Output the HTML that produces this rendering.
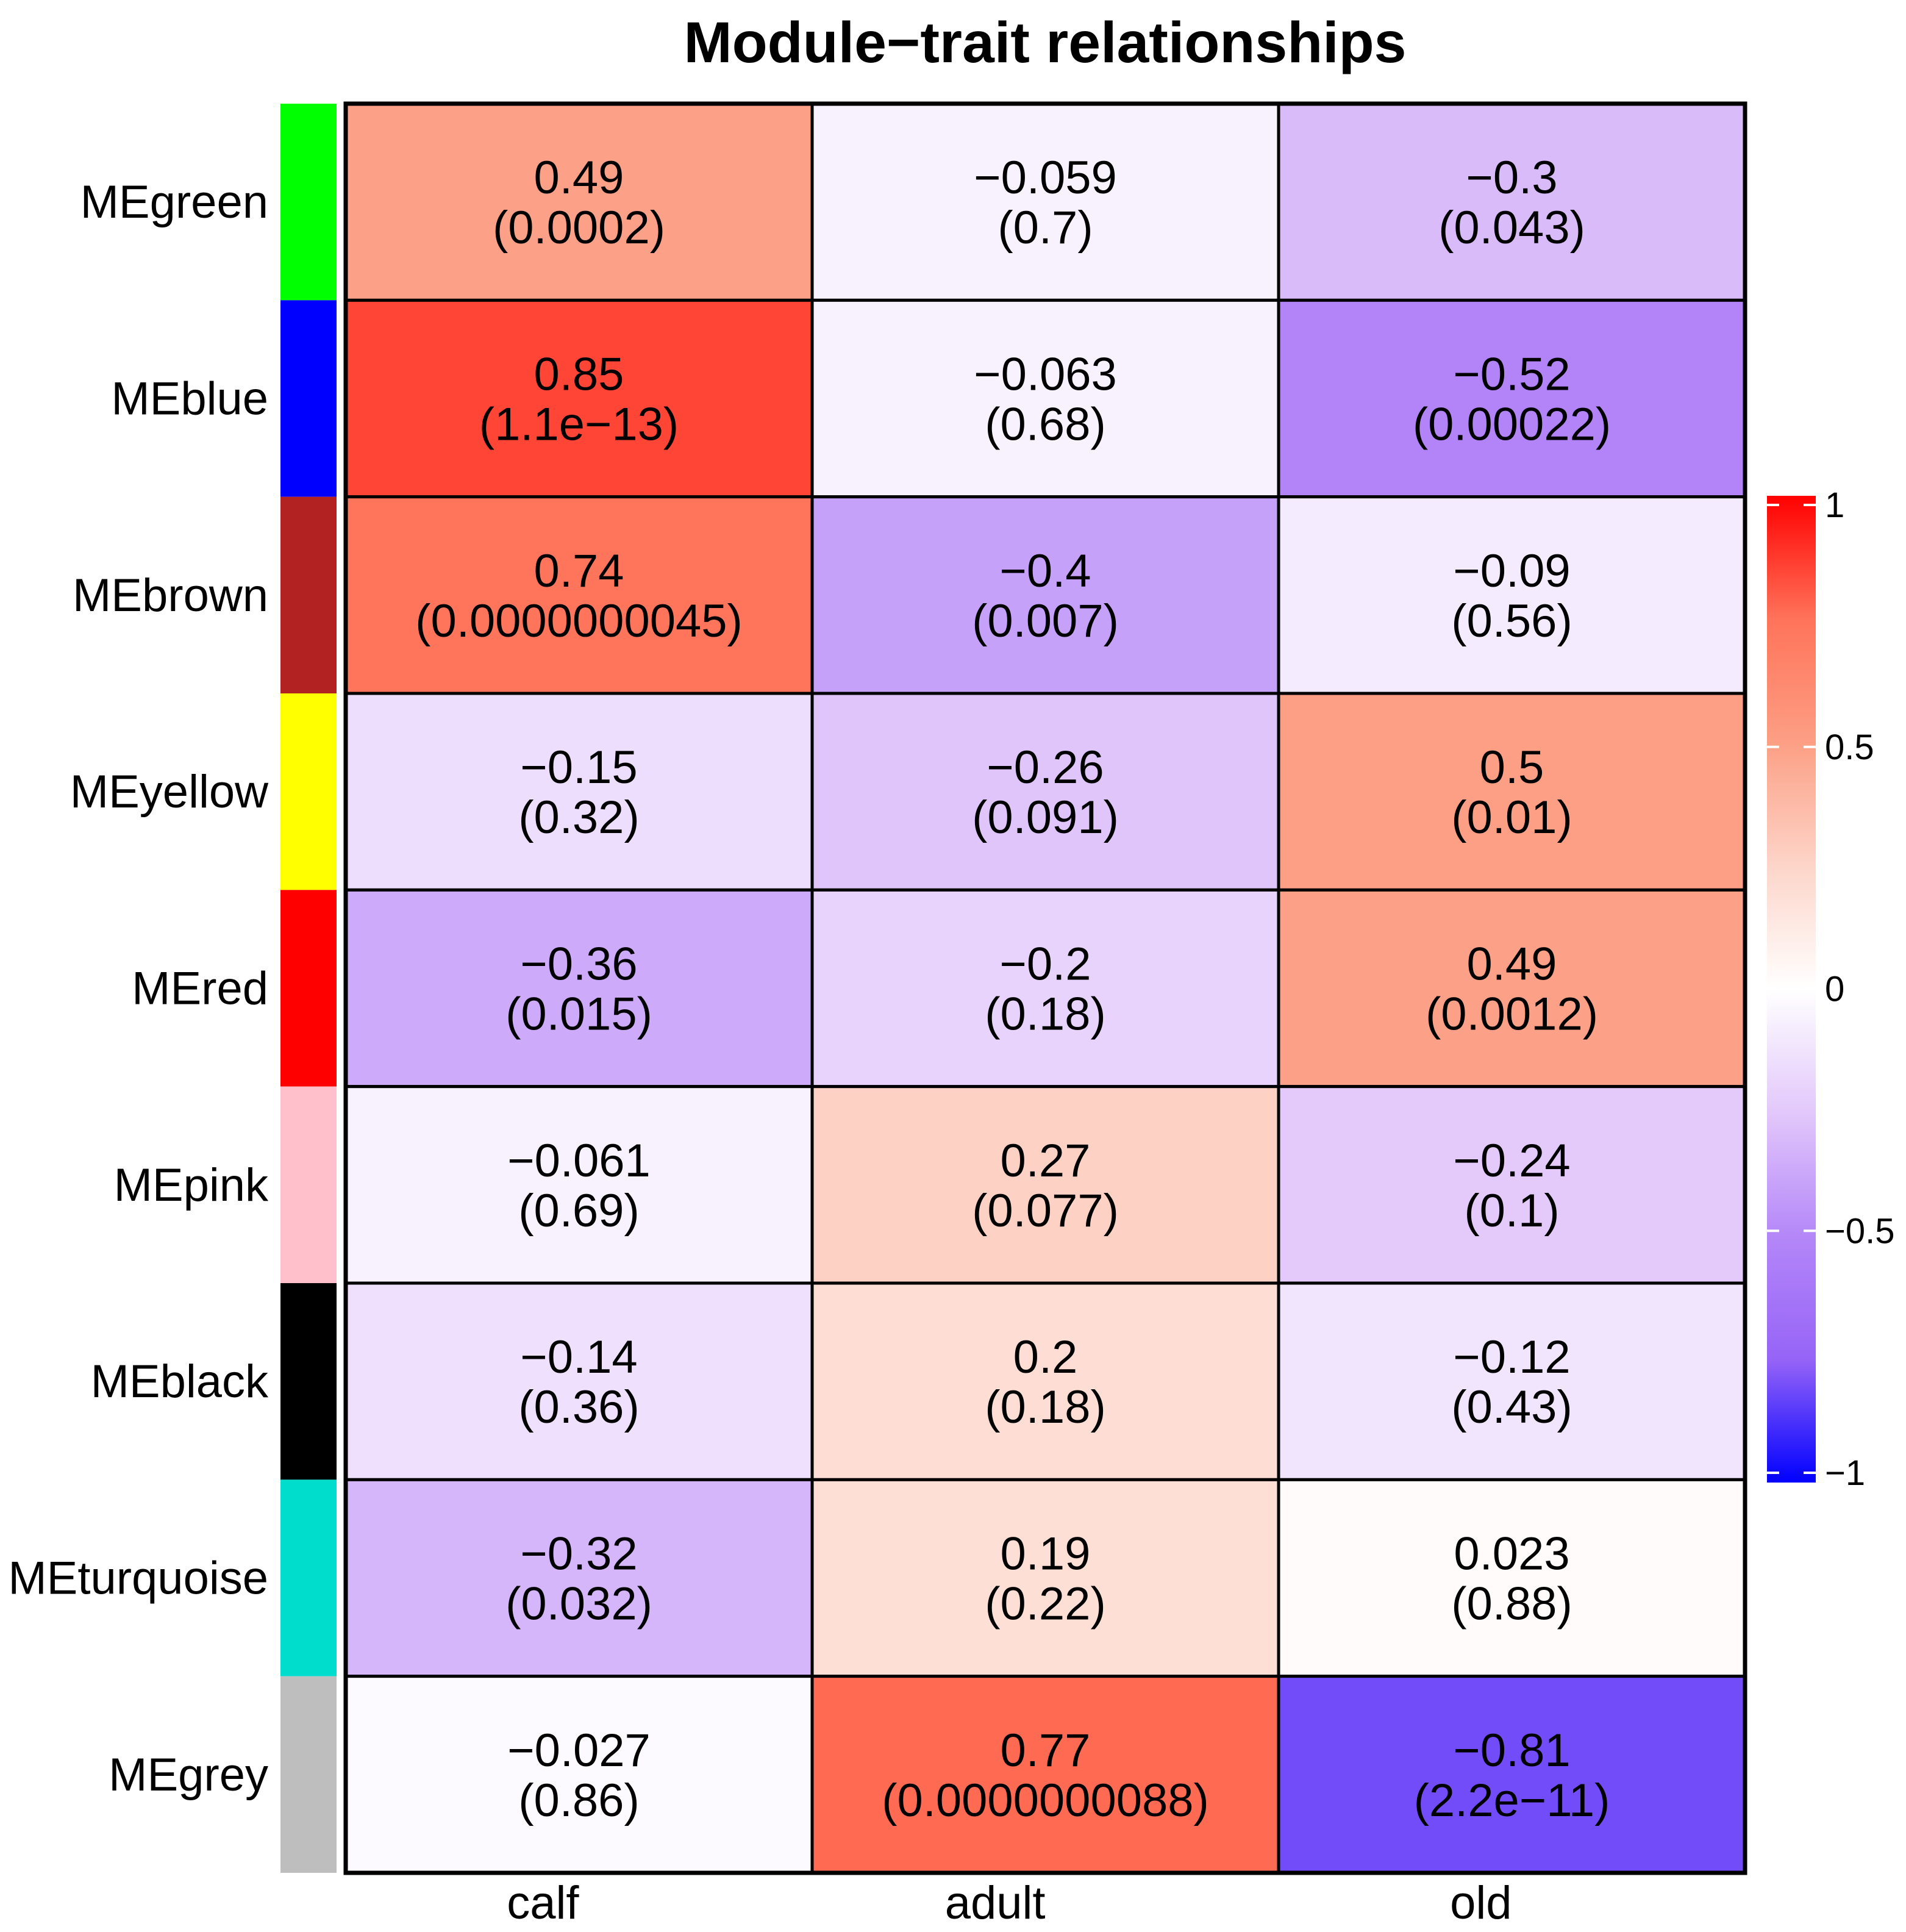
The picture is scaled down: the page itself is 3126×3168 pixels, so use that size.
<!DOCTYPE html>
<html><head><meta charset="utf-8"><style>body{margin:0;background:#fff}svg{display:block}</style></head>
<body>
<svg id="chart" width="3126" height="3168" viewBox="0 0 3126 3168" xmlns="http://www.w3.org/2000/svg" font-family="Liberation Sans, Arial, sans-serif">
<text x="1714" y="102" font-size="95" font-weight="bold" text-anchor="middle">Module−trait relationships</text>
<g id="cells"></g>
<g id="legend"></g>
</svg>
<script>
const modules = ["MEgreen","MEblue","MEbrown","MEyellow","MEred","MEpink","MEblack","MEturquoise","MEgrey"];
const moduleColors = ["#00ff00","#0000ff","#b22222","#ffff00","#ff0000","#ffc0cb","#000000","#00ddcc","#bebebe"];
const traits = ["calf","adult","old"];
const corr = [
 [0.49,-0.059,-0.3],[0.85,-0.063,-0.52],[0.74,-0.4,-0.09],[-0.15,-0.26,0.5],[-0.36,-0.2,0.49],
 [-0.061,0.27,-0.24],[-0.14,0.2,-0.12],[-0.32,0.19,0.023],[-0.027,0.77,-0.81]];
const pvals = [
 ["0.0002","0.7","0.043"],["1.1e−13","0.68","0.00022"],["0.0000000045","0.007","0.56"],
 ["0.32","0.091","0.01"],["0.015","0.18","0.0012"],["0.69","0.077","0.1"],
 ["0.36","0.18","0.43"],["0.032","0.22","0.88"],["0.86","0.0000000088","2.2e−11"]];
const legendTicks = [1,0.5,0,-0.5,-1];

const NS="http://www.w3.org/2000/svg";
const X0=567,X1=2862,Y0=170,Y1=3071;
const cw=(X1-X0)/traits.length, rh=(Y1-Y0)/modules.length;
const xPos=i=>X0+i*cw, yPos=j=>Y0+j*rh;
const stops=[[-1,[0,0,255]],[-0.75,[150,100,247]],[-0.5,[180,135,248]],[-0.25,[226,200,251]],[0,[255,255,255]],[0.25,[253,213,201]],[0.5,[252,159,132]],[0.75,[255,115,90]],[1,[255,0,0]]];
function col(v){for(let k=0;k<stops.length-1;k++){const[a,ca]=stops[k],[b,cb]=stops[k+1];if(v<=b){const t=(v-a)/(b-a);return "rgb("+ca.map((c,i)=>Math.round(c+(cb[i]-c)*t)).join(",")+")";}}return "rgb(255,0,0)";}
function mk(tag,attrs,parent,text){const e=document.createElementNS(NS,tag);for(const k in attrs)e.setAttribute(k,attrs[k]);if(text!==undefined)e.textContent=text;parent.appendChild(e);return e;}
const g=document.getElementById("cells");
const fmt=v=>String(v).replace("-","−");
modules.forEach((m,j)=>{
  const y=yPos(j);
  const bar=mk("rect",{x:460,y:y,width:92,height:rh,fill:moduleColors[j]},g);
  
  
  const lab=mk("text",{x:440,y:y+rh/2+26,"font-size":76,"text-anchor":"end"},g,m);
  
  
  traits.forEach((t,i)=>{
    const x=xPos(i);
    const c=mk("rect",{x:x,y:y,width:cw,height:rh,fill:col(corr[j][i]),stroke:"#000","stroke-width":5},g);
    
    
    const t1=mk("text",{x:x+cw/2,y:y+rh/2-14,"font-size":76,"text-anchor":"middle"},g,fmt(corr[j][i]));
    
    
    const t2=mk("text",{x:x+cw/2,y:y+rh/2+68,"font-size":76,"text-anchor":"middle"},g,"("+pvals[j][i]+")");
    
    
  });
});
const border=mk("rect",{x:X0,y:Y0,width:X1-X0,height:Y1-Y0,fill:"none",stroke:"#000","stroke-width":7},g);


traits.forEach((t,i)=>{
  const tl=mk("text",{x:xPos(i)+cw/2,y:3146,"font-size":76,"text-anchor":"end"},g,t);
  
  
});
// legend
const L=document.getElementById("legend");
const LY0=813,LY1=2431,LX=2898,LW=80;
const ly=v=>828+(1-v)/2*(2415-828);
const defs=mk("defs",{},L);
const gr=mk("linearGradient",{id:"lg",x1:0,y1:0,x2:0,y2:1},defs);
for(let k=0;k<=40;k++){const v=1-2*k/40;mk("stop",{offset:(k/40),"stop-color":col(v)},gr);}
const lb=mk("rect",{x:LX,y:LY0,width:LW,height:LY1-LY0,fill:"url(#lg)"},L);


legendTicks.forEach(v=>{
  const y=ly(v);
  mk("line",{x1:LX,x2:LX+20,y1:y,y2:y,stroke:"#fff","stroke-width":4},L);
  mk("line",{x1:LX+LW-20,x2:LX+LW,y1:y,y2:y,stroke:"#fff","stroke-width":4},L);
  const tt=mk("text",{x:2993,y:y+20,"font-size":58},L,fmt(v));
  
  
});
</script>
</body></html>
